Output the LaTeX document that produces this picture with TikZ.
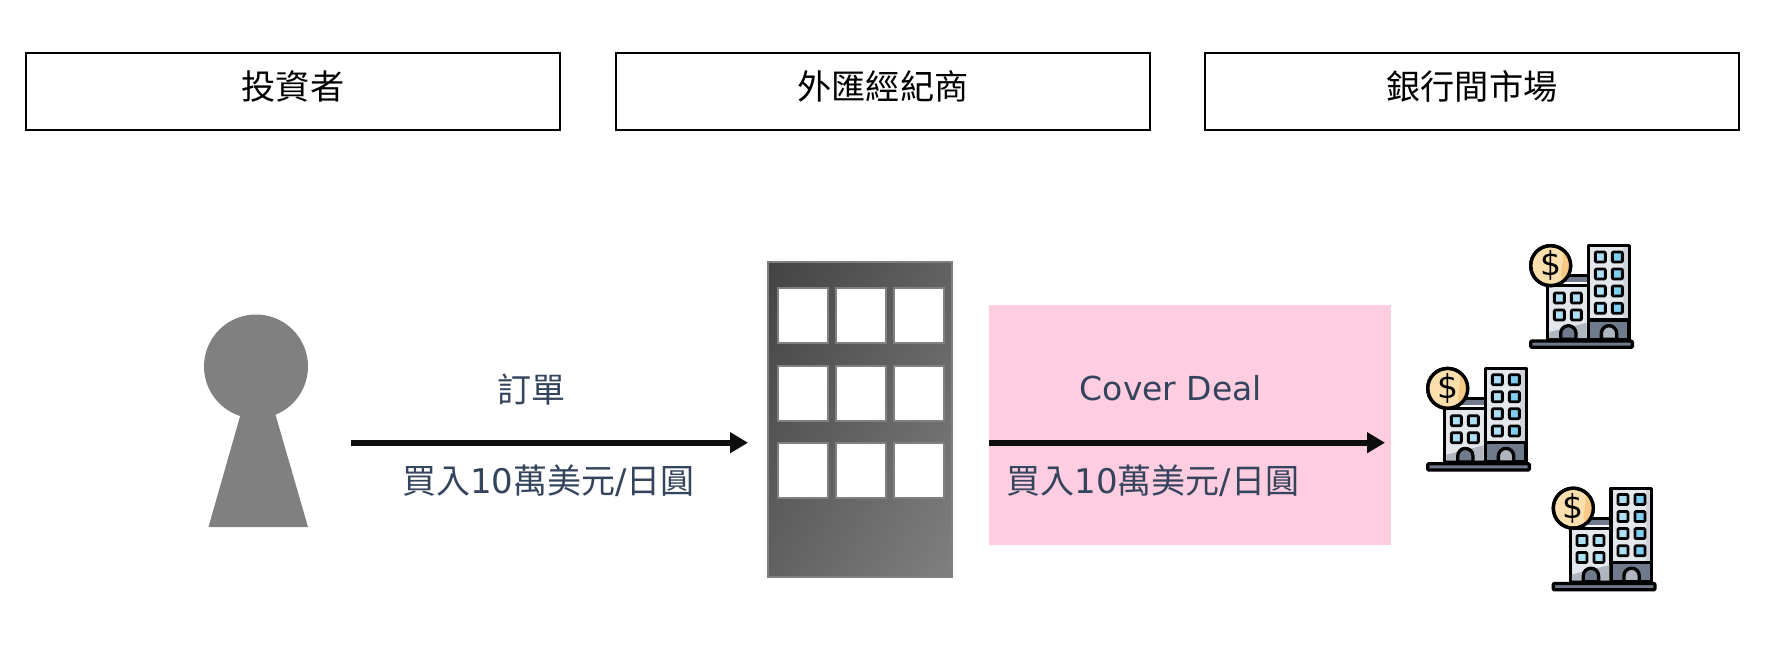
\documentclass[tikz,border=0pt]{standalone}
\usepackage{fontspec}
\setmainfont{DejaVu Sans}
\newfontfamily\cjk{Noto Sans CJK TC}
\usetikzlibrary{arrows.meta}
\definecolor{txtblue}{HTML}{33445C}
\definecolor{pinkbg}{HTML}{FFCDE0}
\definecolor{slate}{HTML}{6F7A8C}
\definecolor{paleg}{HTML}{E4E7EC}
\definecolor{midg}{HTML}{B0B6C0}
\definecolor{sky}{HTML}{7FD0F0}
\definecolor{skyl}{HTML}{AEE0F5}
\definecolor{coinlight}{HTML}{FBE0AE}
\definecolor{coindark}{HTML}{F8C985}
\newcommand{\zh}[1]{{\cjk #1}}
\newcommand{\headtext}[1]{\raisebox{13pt}{#1}}
\tikzset{
  x=1pt,y=-1pt,
  header/.style={draw=black,line width=2pt,fill=white,minimum width=534pt,minimum height=77pt,inner sep=0pt,font=\cjk\fontsize{34.2}{36}\selectfont,text=black},
  label/.style={inner sep=0pt,text=txtblue,font=\fontsize{34}{38}\selectfont},
  latin/.style={inner sep=0pt,text=txtblue,font=\fontsize{33}{38}\selectfont},
  flow/.style={draw=black!95,line width=5.6pt,-{Triangle[length=18pt,width=20pt]}},
  window/.style={draw=black!50,line width=2pt,fill=white,minimum width=50pt,minimum height=55pt,inner sep=0pt},
  ico/.style={draw=black,line width=3.3pt,line join=round},
  bankpane/.pic={\draw[ico,line width=2.8pt,fill=#1,rounded corners=1pt] (-15,-15) rectangle (15,15);},
  bankicon/.pic={
    \begin{scope}[x=.33333pt,y=-.33333pt]
      \fill[slate] (555,165) rectangle (625,187);
      \draw[ico] (555,167) -- (625,167);
      \draw[ico,fill=paleg] (625,77) rectangle (747,358);
      \fill[midg!60] (730,82) rectangle (743,296);
      \draw[ico,fill=slate] (625,300) rectangle (747,358);
      \draw[ico,fill=paleg] (503,197) rectangle (625,358);
      \fill[midg] (508,336) -- (620,308) -- (620,354) -- (508,354) -- cycle;
      \foreach \wy in {111,162,213,265}{
        \pic at (661,\wy) {bankpane=skyl};
        \pic at (712,\wy) {bankpane=sky};
      }
      \foreach \wy in {234,285}{
        \pic at (538,\wy) {bankpane=skyl};
        \pic at (589,\wy) {bankpane=skyl};
      }
      \draw[ico,fill=slate] (542,358) -- (542,340) arc[start angle=180,end angle=0,x radius=23,y radius=-23] -- (588,358) -- cycle;
      \draw[ico,fill=midg] (664,358) -- (664,340) arc[start angle=180,end angle=0,x radius=23,y radius=-23] -- (710,358) -- cycle;
      \draw[ico,fill=slate,rounded corners=1pt] (452,363) rectangle (757,382);
      \draw[ico,fill=coinlight] (512,137) circle[radius=60];
      \fill[coindark] (548,90) arc[start angle=-52,end angle=52,radius=58] .. controls (535,160) and (555,120) .. (548,90) -- cycle;
      \draw[ico] (512,137) circle[radius=60];
      \node[inner sep=0pt,font=\fontsize{33}{34}\selectfont,text=black] at (512,137) {\$};
    \end{scope}
  }
}
\begin{document}
\begin{tikzpicture}
  \useasboundingbox (0,0) rectangle (1769,667);
  \fill[white] (0,0) rectangle (1769,667);

  % column headers
  \node[header] (h1) at (293,91.5) {\headtext{投資者}};
  \node[header] (h2) at (883,91.5) {\headtext{外匯經紀商}};
  \node[header] (h3) at (1472,91.5) {\headtext{銀行間市場}};

  % investor figure
  \fill[black!50] (241,413) -- (208.5,527) -- (308,527) -- (275,413) -- cycle;
  \fill[black!50] (256,366.5) circle[radius=52];

  % broker building: diagonal gradient, dark at the top left, lighter at the bottom right
  \begin{scope}
    \clip (768,262) rectangle (952,577);
    \foreach \k in {0,...,59}{
      \pgfmathsetmacro{\frac}{2*\k/60}
      \pgfmathsetmacro{\shadeval}{73.3-23.1*\k/59}
      \fill[black!\shadeval] (768+184*\frac,262) -- (768+368,262) -- (768,262+630) -- (768,262+315*\frac) -- cycle;
    }
  \end{scope}
  \node[draw=black!50,line width=2pt,minimum width=184pt,minimum height=315pt,inner sep=0pt] (broker) at (860,419.5) {};
  \foreach \col/\cx in {1/803,2/861,3/919}{
    \foreach \row/\cy in {1/315.5,2/393.5,3/470.5}{
      \node[window] (w\col\row) at (\cx,\cy) {};
    }
  }

  % cover deal panel
  \node[fill=pinkbg,minimum width=402pt,minimum height=240pt,inner sep=0pt] (panel) at (1190,425) {};

  % arrows
  \coordinate (a1s) at (351,442.7);
  \coordinate (a1e) at (748,442.7);
  \coordinate (a2s) at (989,442.7);
  \coordinate (a2e) at (1385,442.7);
  \draw[flow] (a1s) -- (a1e);
  \draw[flow] (a2s) -- (a2e);

  % labels
  \node[label] (l1) at (531,390) {\zh{訂單}};
  \node[label] (l2) at (548.5,480.5) {\zh{買入}10\zh{萬美元}/\zh{日圓}};
  \node[latin] (l3) at (1171,388.5) {Cover Deal};
  \node[label] (l4) at (1153,480.5) {\zh{買入}10\zh{萬美元}/\zh{日圓}};

  % bank icons
  \pic at (1380,220) {bankicon};
  \pic at (1277,342.7) {bankicon};
  \pic at (1402.6,462.5) {bankicon};
\end{tikzpicture}
\end{document}
